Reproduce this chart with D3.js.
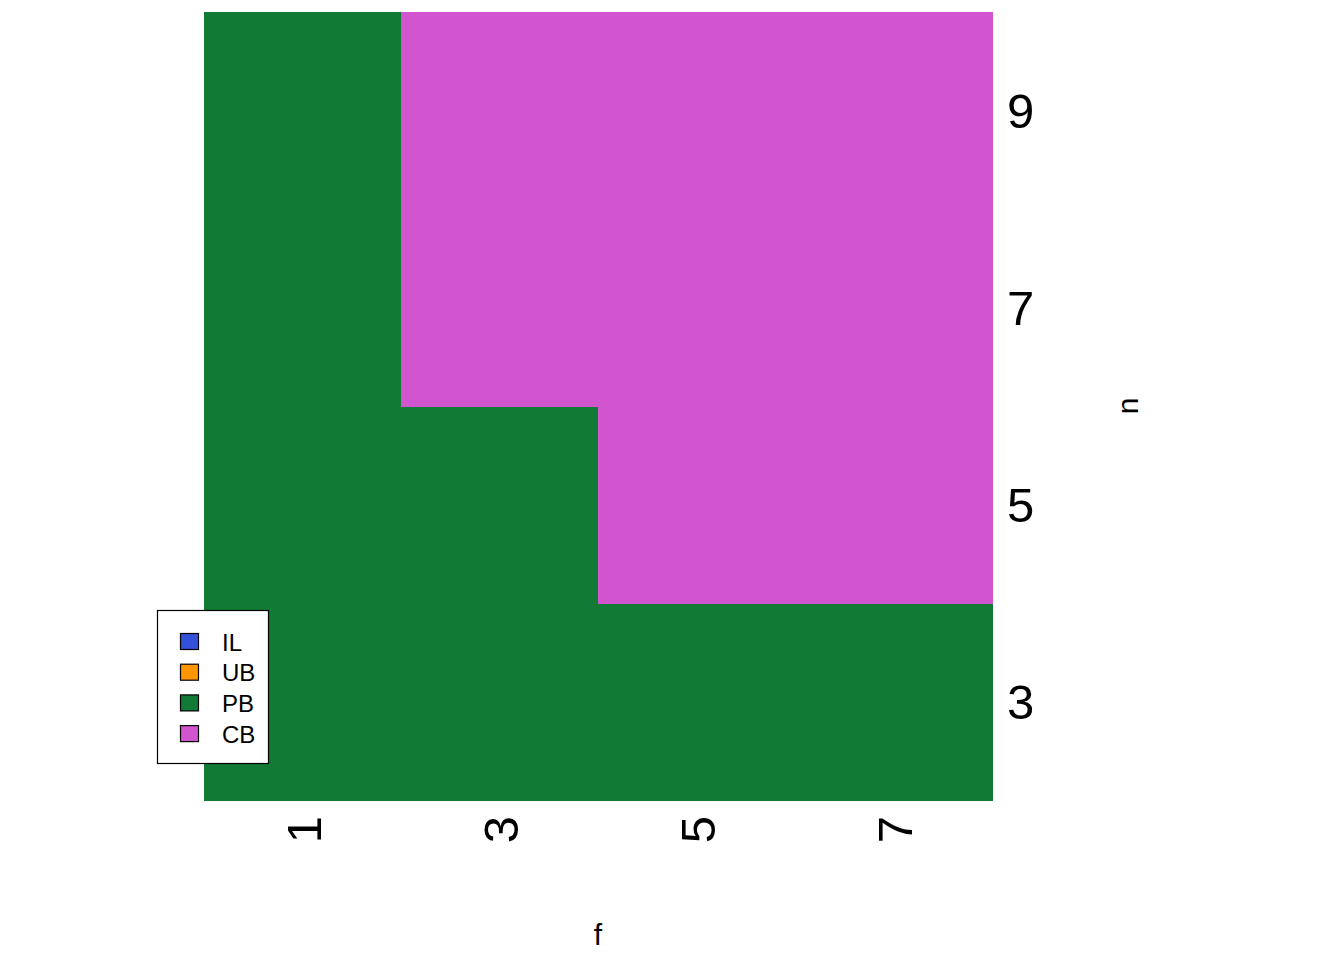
<!DOCTYPE html>
<html>
<head>
<meta charset="utf-8">
<script src="https://cdn.jsdelivr.net/npm/d3@7"></script>
<style>
  html, body { margin: 0; padding: 0; background: #ffffff; }
  svg { display: block; font-family: "Liberation Sans", Arial, sans-serif; }
</style>
</head>
<body>
<svg id="chart" width="1344" height="960"></svg>
<script>
// ---- data ----
const fValues = [1, 3, 5, 7];
const nValues = [3, 5, 7, 9];
// regime for each n (3,5,7,9) within each f column
const regimeF1 = ["PB", "PB", "PB", "PB"];
const regimeF3 = ["PB", "PB", "CB", "CB"];
const regimeF5 = ["PB", "CB", "CB", "CB"];
const regimeF7 = ["PB", "CB", "CB", "CB"];
const regimeColumns = [regimeF1, regimeF3, regimeF5, regimeF7];
const regimeNames = ["IL", "UB", "PB", "CB"];
const regimeColors = ["#3451DB", "#FF9500", "#117A35", "#D055CE"];
const xTitle = "f";
const yTitle = "n";

const cells = [];
fValues.forEach((f, i) => {
  nValues.forEach((n, j) => {
    cells.push({ f, n, regime: regimeColumns[i][j] });
  });
});

// ---- layout ----
const svg = d3.select("#chart");
const plotL = 204, plotR = 992, plotT = 12, plotB = 800;

const x = d3.scaleBand().domain(fValues).range([plotL, plotR]).padding(0);
const y = d3.scaleBand().domain(nValues).range([plotB, plotT]).padding(0);
const color = d3.scaleOrdinal().domain(regimeNames).range(regimeColors);

svg.append("g")
  .selectAll("rect")
  .data(cells)
  .join("rect")
  .attr("x", d => x(d.f))
  .attr("y", d => y(d.n))
  .attr("width", x.bandwidth() + 0.5)
  .attr("height", y.bandwidth() + 0.5)
  .attr("fill", d => color(d.regime))
  .attr("shape-rendering", "crispEdges");

// x axis (bottom), labels rotated
const xAxis = d3.axisBottom(x).tickSize(0).tickPadding(0);
const gx = svg.append("g").attr("transform", `translate(0,${plotB})`).call(xAxis);
gx.select(".domain").remove();
gx.selectAll("text")
  .attr("transform", "translate(1,16) rotate(-90)")
  .attr("text-anchor", "end")
  .attr("x", 0).attr("y", 0).attr("dy", "0.36em")
  .attr("font-size", 49)
  .attr("font-family", "Liberation Sans, Arial, sans-serif")
  .attr("fill", "#000");

// y axis (right)
const yAxis = d3.axisRight(y).tickSize(0).tickPadding(0);
const gy = svg.append("g").attr("transform", `translate(${plotR},0)`).call(yAxis);
gy.select(".domain").remove();
gy.selectAll("text")
  .attr("x", 15)
  .attr("dy", "0.36em")
  .attr("text-anchor", "start")
  .attr("font-size", 49)
  .attr("font-family", "Liberation Sans, Arial, sans-serif")
  .attr("fill", "#000");

// axis titles
svg.append("text")
  .attr("x", (plotL + plotR) / 2)
  .attr("y", 945)
  .attr("text-anchor", "middle")
  .attr("font-size", 30)
  .text(xTitle);

svg.append("text")
  .attr("transform", `translate(1138,${(plotT + plotB) / 2}) rotate(-90)`)
  .attr("text-anchor", "middle")
  .attr("font-size", 30)
  .text(yTitle);

// legend
const lg = svg.append("g");
lg.append("rect")
  .attr("x", 157.5).attr("y", 610.5)
  .attr("width", 111).attr("height", 153)
  .attr("fill", "#fff").attr("stroke", "#000").attr("stroke-width", 1.2);
const items = lg.selectAll("g.item").data(regimeNames).join("g")
  .attr("class", "item")
  .attr("transform", (d, i) => `translate(0,${642 + i * 30.7})`);
items.append("rect")
  .attr("x", 180.5).attr("y", -8.5)
  .attr("width", 18).attr("height", 16)
  .attr("fill", d => color(d))
  .attr("stroke", "#000").attr("stroke-width", 1.2);
items.append("text")
  .attr("x", 222)
  .attr("dy", "0.36em")
  .attr("font-size", 24)
  .text(d => d);
</script>
</body>
</html>
